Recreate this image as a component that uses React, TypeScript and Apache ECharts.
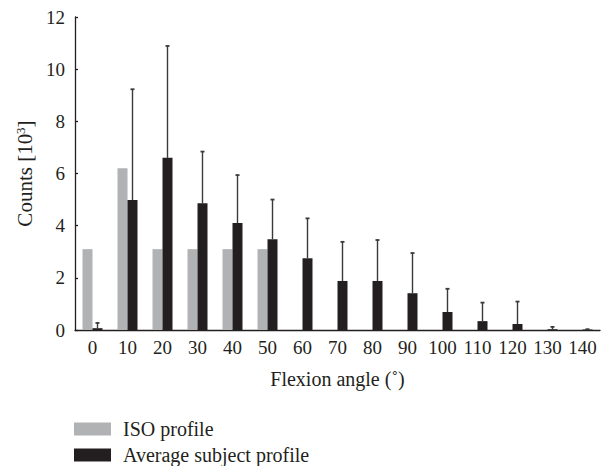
import React, { useEffect, useRef } from "react";
import * as echarts from "echarts";

const categories = ["0", "10", "20", "30", "40", "50", "60", "70", "80", "90", "100", "110", "120", "130", "140"];
const isoProfile = [3.1, 6.2, 3.1, 3.1, 3.1, 3.1, 0, 0, 0, 0, 0, 0, 0, 0, 0];
const averageProfile = [0.07, 4.98, 6.6, 4.86, 4.1, 3.48, 2.75, 1.88, 1.88, 1.41, 0.69, 0.34, 0.23, 0.03, 0.02];
const averageUpper = [0.27, 9.23, 10.89, 6.84, 5.94, 5.0, 4.28, 3.38, 3.45, 2.95, 1.58, 1.05, 1.09, 0.12, 0.03];
const yTicks = [0, 2, 4, 6, 8, 10, 12];
const seriesNames = ["ISO profile", "Average subject profile"];

const FONT = "'Liberation Serif', 'DejaVu Serif', serif";
const INK = "#231f20";

export default function App() {
  const ref = useRef<HTMLDivElement>(null);
  useEffect(() => {
    if (!ref.current) return;
    const chart = echarts.init(ref.current, undefined, { renderer: "svg" });
    const BAR_W = 10;
    const legendBase = {
      orient: "vertical",
      left: 74,
      itemWidth: 37,
      itemHeight: 13,
      padding: 0,
      icon: "rect",
      selectedMode: false,
      textStyle: { fontFamily: FONT, fontSize: 20, color: INK, padding: [0, 0, 0, 7] },
    };
    chart.setOption({
      animation: false,
      backgroundColor: "#ffffff",
      textStyle: { fontFamily: FONT, color: INK },
      grid: { left: 75, right: 1, top: 17, bottom: 136, containLabel: false },
      legend: [
        { ...legendBase, data: [seriesNames[0]], top: 419 },
        { ...legendBase, data: [seriesNames[1]], top: 445 },
      ],
      xAxis: {
        type: "category",
        data: categories,
        name: "Flexion angle (˚)",
        nameLocation: "middle",
        nameGap: 39,
        nameTextStyle: { fontFamily: FONT, fontSize: 20, color: INK },
        axisLine: { lineStyle: { color: INK, width: 1.3 } },
        axisTick: { inside: true, length: 3, lineStyle: { color: INK, width: 1.3 } },
        axisLabel: { fontFamily: FONT, fontSize: 19, color: INK, margin: 8, interval: 0, hideOverlap: false },
        splitLine: { show: false },
      },
      yAxis: {
        type: "value",
        min: yTicks[0],
        max: yTicks[yTicks.length - 1],
        interval: 2,
        name: "Counts [10{sup|3}]",
        nameLocation: "middle",
        nameRotate: 90,
        nameGap: 36,
        nameTextStyle: {
          fontFamily: FONT,
          fontSize: 21,
          color: INK,
          rich: {
            sup: { fontFamily: FONT, fontSize: 13, color: INK, verticalAlign: "top", padding: [0, 0, 9, 0] },
          },
        },
        axisLine: { show: true, lineStyle: { color: INK, width: 1.3 } },
        axisTick: { show: true, inside: true, length: 3, lineStyle: { color: INK, width: 1.3 } },
        axisLabel: { fontFamily: FONT, fontSize: 19, color: INK, margin: 10 },
        splitLine: { show: false },
      },
      series: [
        {
          name: seriesNames[0],
          type: "bar",
          data: isoProfile,
          barWidth: BAR_W,
          barGap: "0%",
          itemStyle: { color: "#b1b2b4" },
        },
        {
          name: seriesNames[1],
          type: "bar",
          data: averageProfile,
          barWidth: BAR_W,
          barGap: "0%",
          itemStyle: { color: INK },
        },
        {
          name: "error",
          type: "custom",
          data: averageProfile.map((v, i) => [i, v, averageUpper[i]]),
          encode: { x: 0, y: 2 },
          z: 5,
          renderItem: (params: any, api: any) => {
            const idx = api.value(0);
            const base = api.coord([idx, api.value(1)]);
            const top = api.coord([idx, api.value(2)]);
            const x = base[0] + BAR_W / 2;
            const capHalf = 2;
            const style = { stroke: "#3a3a3a", lineWidth: 1.4 };
            return {
              type: "group",
              children: [
                { type: "line", shape: { x1: x, y1: base[1], x2: x, y2: top[1] }, style },
                { type: "line", shape: { x1: x - capHalf, y1: top[1], x2: x + capHalf, y2: top[1] }, style: { stroke: "#3a3a3a", lineWidth: 1.8 } },
              ],
            };
          },
        },
      ],
    });
    return () => chart.dispose();
  }, []);
  return <div ref={ref} style={{ width: 601, height: 466, position: "absolute", left: 0, top: 0 }} />;
}
